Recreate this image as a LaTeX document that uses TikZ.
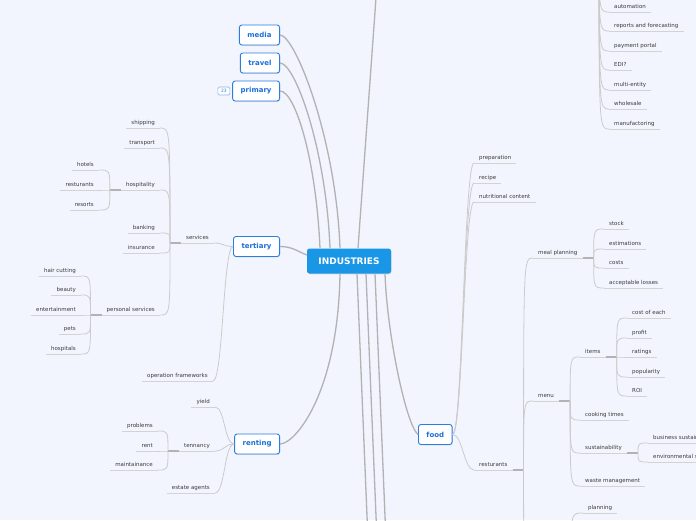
\documentclass[tikz,border=0pt]{standalone}
\usepackage{fontspec}
\setmainfont{DejaVu Sans}
\usetikzlibrary{shadows}
\definecolor{bgpaper}{HTML}{F2F5FD}
\definecolor{hubblue}{HTML}{1A96E6}
\definecolor{topicline}{HTML}{2A7DE1}
\definecolor{topictext}{HTML}{1B6FD8}
\definecolor{leaftext}{HTML}{3A3A3A}
\definecolor{trunkgray}{HTML}{B2B2B2}
\definecolor{twiggray}{HTML}{CBCBCB}
\definecolor{ulgray}{HTML}{D3D3D3}
\definecolor{badgeline}{HTML}{8DB8EE}
\tikzset{
  hub/.style={fill=hubblue, rounded corners=2.5pt, text=white,
    font=\bfseries\fontsize{9}{10}\selectfont, minimum width=84pt, minimum height=25pt,
    drop shadow={shadow xshift=0.5pt, shadow yshift=-0.8pt, opacity=0.25}},
  topic/.style={draw=topicline, line width=0.9pt, fill=white, rounded corners=2.5pt,
    text=topictext, font=\bfseries\fontsize{7}{8}\selectfont, inner xsep=8pt,
    minimum height=20pt,
    drop shadow={shadow xshift=0.5pt, shadow yshift=-0.8pt, opacity=0.25}},
  leaf/.style={font=\fontsize{5.5}{6}\selectfont, text=leaftext, inner xsep=5pt,
    inner ysep=2pt, text height=4.5pt, text depth=1.3pt},
  badge/.style={draw=badgeline, line width=0.6pt, rounded corners=1.5pt, fill=white,
    text=topicline, font=\fontsize{4.5}{5}\selectfont, minimum width=12pt,
    minimum height=8pt, inner sep=0.5pt},
  trunk/.style={draw=trunkgray, line width=1.3pt},
  twig/.style={draw=twiggray, line width=0.8pt},
  uline/.style={draw=ulgray, line width=0.8pt},
  stub/.style={draw=trunkgray, line width=1.5pt}
}
% leaves sit on their underline: R = grows to the right, L = to the left
\newcommand{\leafR}[4]{%
  \node[leaf, anchor=south west] (#1) at (#2,#3) {#4};
  \draw[uline] (#1.south west) -- (#1.south east);}
\newcommand{\leafL}[4]{%
  \node[leaf, anchor=south east] (#1) at (#2,#3) {#4};
  \draw[uline] (#1.south west) -- (#1.south east);}
\newcommand{\stubR}[1]{%
  \coordinate (#1j) at ([xshift=11pt]#1.south east);
  \draw[stub] (#1.south east) -- (#1j);}
\newcommand{\stubL}[1]{%
  \coordinate (#1j) at ([xshift=-11pt]#1.south west);
  \draw[stub] (#1.south west) -- (#1j);}
\newcommand{\twigR}[2]{\draw[twig] (#1) .. controls (#1 |- #2.south west) .. (#2.south west);}
\newcommand{\twigL}[2]{\draw[twig] (#1) .. controls (#1 |- #2.south east) .. (#2.south east);}

\begin{document}
\begin{tikzpicture}[x=1pt, y=-1pt]
  \useasboundingbox (0,0) rectangle (696,520);
  \clip (0,0) rectangle (696,520);
  \fill[bgpaper] (0,0) rectangle (696,520);

  \node[hub] (ind) at (349,261) {INDUSTRIES};
  \node[topic, anchor=east] (media) at (280,35) {media};
  \node[topic, anchor=east] (travel) at (280,63) {travel};
  \node[topic, anchor=east] (primary) at (280,91) {primary};
  \node[badge, anchor=east] (count) at ([xshift=-2pt]primary.west) {23};
  \node[topic, anchor=east] (tertiary) at (280,246.5) {tertiary};
  \node[topic, anchor=east] (renting) at (280,444) {renting};
  \node[topic, anchor=west] (food) at (418,434.5) {food};

  % branches leaving the frame
  \coordinate (upT) at (378,-30);
  \coordinate (upRj) at (599,-60);
  \coordinate (dnA) at (368,540);
  \coordinate (dnB) at (377,540);
  \coordinate (dnC) at (386,540);

  \draw[trunk] (media.east) .. controls +(15,0) and +(-4,-110) .. ([xshift=-9pt]ind.north);
  \draw[trunk] (travel.east) .. controls +(15,0) and +(-4,-100) .. ([xshift=-19pt]ind.north);
  \draw[trunk] (primary.east) .. controls +(15,0) and +(-4,-90) .. ([xshift=-29pt]ind.north);
  \draw[trunk] ([xshift=9pt]ind.north) -- (upT);
  \draw[trunk] (tertiary.east) .. controls +(12,0) and +(-10,-4) .. ([yshift=6pt]ind.west);
  \draw[trunk] (renting.east) .. controls +(15,0) and +(-2,120) .. ([xshift=-9pt]ind.south);
  \draw[trunk] ([xshift=8pt]ind.south) -- (dnA);
  \draw[trunk] ([xshift=17pt]ind.south) -- (dnB);
  \draw[trunk] ([xshift=26pt]ind.south) -- (dnC);
  \draw[trunk] ([xshift=36pt]ind.south) .. controls +(2,60) and +(-12,-10) .. (food.west);

  % upper right list
  \foreach \n/\y/\t in {auto/12/automation, repf/31/reports and forecasting,
      payp/51/payment portal, edi/70/EDI?, multi/90/multi-entity,
      whole/109/wholesale, manuf/129/manufactoring} {
    \leafR{\n}{609}{\y}{\t}
    \twigR{upRj}{\n}
  }

  % food
  \foreach \n/\y/\t in {prep/163/preparation, recp/183/recipe,
      nutr/202/nutritional content, resto/470/resturants} {
    \leafR{\n}{474}{\y}{\t}
    \draw[twig] (food.east) .. controls +(10,0) and +(-10,0) .. (\n.south west);
  }
  \stubR{resto}
  \leafR{mealp}{533}{258}{meal planning}
  \leafR{menu}{533}{401}{menu}
  \twigR{restoj}{mealp}
  \twigR{restoj}{menu}
  \coordinate (restoDn) at (533,570);
  \draw[twig] (restoj) .. controls (restoj |- restoDn) .. (restoDn);
  \stubR{mealp}
  \foreach \n/\y/\t in {stock/229/stock, estim/249/estimations, costs/268/costs,
      loss/288/acceptable losses} {
    \leafR{\n}{604}{\y}{\t}
    \twigR{mealpj}{\n}
  }
  \stubR{menu}
  \foreach \n/\y/\t in {items/357/items, cook/420/cooking times,
      sust/453/sustainability, waste/486/waste management} {
    \leafR{\n}{580}{\y}{\t}
    \twigR{menuj}{\n}
  }
  \stubR{items}
  \foreach \n/\y/\t in {each/318/cost of each, profit/338/profit, rating/357/ratings,
      popul/377/popularity, roi/396/ROI} {
    \leafR{\n}{627}{\y}{\t}
    \twigR{itemsj}{\n}
  }
  \stubR{sust}
  \foreach \n/\y/\t in {bsus/443/business sustainability,
      esus/462/environmental sustainability} {
    \leafR{\n}{648}{\y}{\t}
    \twigR{sustj}{\n}
  }
  \coordinate (planj) at (571,560);
  \leafR{plan}{583}{513}{planning}
  \twigR{planj}{plan}

  % tertiary
  \leafR{serv}{181}{243}{services}
  \leafL{opf}{213}{381}{operation frameworks}
  \draw[twig] (tertiary.west) .. controls +(-10,0) and +(10,0) .. (serv.south east);
  \draw[twig] (tertiary.west) .. controls +(-10,0) and +(10,0) .. (opf.south east);
  \stubL{serv}
  \foreach \n/\y/\t in {shp/128/shipping, trn/148/transport, hosp/190/hospitality,
      bank/233/banking, insu/253/insurance, pers/315/personal services} {
    \leafL{\n}{160}{\y}{\t}
    \twigL{servj}{\n}
  }
  \stubL{hosp}
  \foreach \n/\y/\t in {hotel/170/hotels, hrest/190/resturants, resort/210/resorts} {
    \leafL{\n}{99}{\y}{\t}
    \twigL{hospj}{\n}
  }
  \stubL{pers}
  \foreach \n/\y/\t in {hair/276/hair cutting, beauty/295/beauty,
      ent/315/entertainment, pets/334/pets, hosps/354/hospitals} {
    \leafL{\n}{81}{\y}{\t}
    \twigL{persj}{\n}
  }

  % renting
  \foreach \n/\y/\t in {yield/407/yield, tenn/451/tennancy, estate/493/estate agents} {
    \leafL{\n}{215}{\y}{\t}
    \draw[twig] (renting.west) .. controls +(-10,0) and +(10,0) .. (\n.south east);
  }
  \stubL{tenn}
  \foreach \n/\y/\t in {prob/431/problems, rentl/451/rent, maint/470/maintainance} {
    \leafL{\n}{158}{\y}{\t}
    \twigL{tennj}{\n}
  }
\end{tikzpicture}
\end{document}
